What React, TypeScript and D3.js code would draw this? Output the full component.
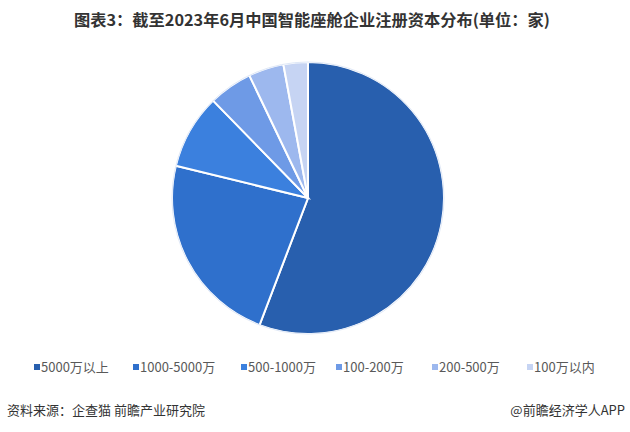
import React from "react";
import * as d3 from "d3";

const categories = ["5000万以上", "1000-5000万", "500-1000万", "100-200万", "200-500万", "100万以内"];
const values = [55.8, 23.0, 8.9, 5.2, 4.2, 2.9];
const colors = ["#285FAE", "#2F70CC", "#3B80DE", "#6E9AE6", "#9DB8EE", "#C6D4F3"];
const legendX = [34, 133, 241, 336, 432, 527];

const title = "图表3：截至2023年6月中国智能座舱企业注册资本分布(单位：家)";
const source = "资料来源：企查猫 前瞻产业研究院";
const brand = "@前瞻经济学人APP";

export default function App() {
  const W = 630, H = 432;
  const cx = 308, cy = 198, r = 136;
  const pie = d3.pie<number>().sort(null).value((d) => d);
  const arcs = pie(values);
  const arc = d3.arc<d3.PieArcDatum<number>>().innerRadius(0).outerRadius(r);
  const font = "'Noto Sans CJK SC', 'Noto Sans', sans-serif";
  return (
    <svg width={W} height={H} style={{ position: "absolute", left: 0, top: 0, background: "#fff" }}>
      <rect width={W} height={H} fill="#fff" />
      <text x={74} y={26} textLength={476} lengthAdjust="spacingAndGlyphs" fontFamily={font} fontWeight="bold" fontSize={16} fill="#333">
        {title}
      </text>
      <g transform={`translate(${cx},${cy})`}>
        {arcs.map((a, i) => (
          <path key={i} d={arc(a) || ""} fill={colors[i]} stroke="#fff" strokeWidth={2} />
        ))}
        <circle r={r} fill="none" stroke="#dfe8f7" strokeWidth={1} />
      </g>
      {categories.map((c, i) => (
        <g key={c} transform={`translate(${legendX[i]},367)`}>
          <rect x={0} y={-3} width={6} height={6} fill={colors[i]} />
          <text x={7} y={5} fontFamily={font} fontSize={13} fill="#595959">
            {c}
          </text>
        </g>
      ))}
      <text x={7} y={415} fontFamily={font} fontSize={13} fill="#333">
        {source}
      </text>
      <text x={625} y={415} textAnchor="end" fontFamily={font} fontSize={13} fill="#333">
        {brand}
      </text>
    </svg>
  );
}
